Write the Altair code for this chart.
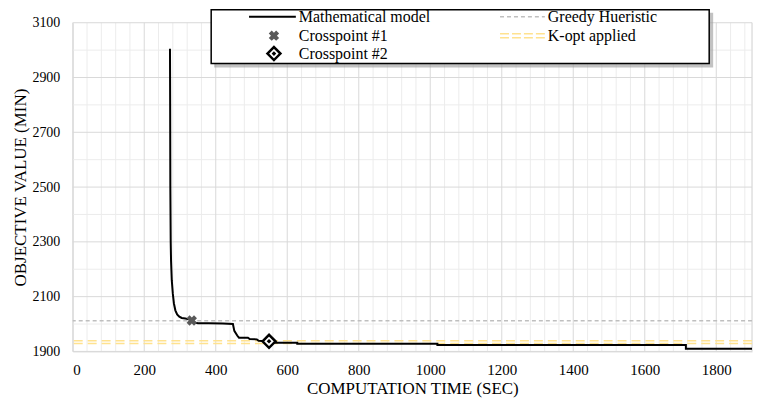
import altair as alt
import pandas as pd

# ---- data ----
time_sec = [272, 272.5, 273, 274, 275, 277, 280, 283, 287, 292, 298, 305, 315, 325, 333,
            340, 350, 380, 420, 448, 452, 460, 465, 490, 495, 515, 520, 549,
            552, 628, 628, 1020, 1020, 1715, 1715, 1900]
objective = [3005, 2800, 2500, 2300, 2230, 2160, 2110, 2075, 2050, 2035, 2027, 2022, 2020, 2017, 2013,
             2006, 2003, 2003, 2002, 2000, 1975, 1958, 1950, 1950, 1945, 1944, 1939, 1937,
             1932, 1932, 1928, 1928, 1923, 1923, 1910, 1910]

greedy_value = [2012]
kopt_values = [1929, 1939]
cross1_t, cross1_v = [333], [2013]
cross2_t, cross2_v = [549], [1937]

x_major = [0, 200, 400, 600, 800, 1000, 1200, 1400, 1600, 1800]
y_major = [1900, 2100, 2300, 2500, 2700, 2900, 3100]
x_minor = [v for v in range(0, 1901, 40) if v % 200 != 0] + [1900]
y_minor = [2000, 2200, 2400, 2600, 2800, 3000]

legend_labels = ["Mathematical model", "Crosspoint #1", "Crosspoint #2",
                 "Greedy Hueristic", "K-opt applied"]

FONT = "Liberation Serif"

xs = alt.Scale(domain=[0, 1900], nice=False, zero=False)
ys = alt.Scale(domain=[1900, 3100], nice=False, zero=False)

x_axis = alt.Axis(values=x_major, format="d", labelFont=FONT, labelFontSize=15, labelPadding=11,
                  title="COMPUTATION TIME (SEC)", titlePadding=3)
y_axis = alt.Axis(values=y_major, format="d", labelFont=FONT, labelFontSize=14, labelPadding=13,
                  title="OBJECTIVE VALUE (MIN)", titlePadding=2)


def X(f):
    return alt.X(f, scale=xs, axis=x_axis)


def Y(f):
    return alt.Y(f, scale=ys, axis=y_axis)


curve_df = pd.DataFrame({"t": time_sec, "v": objective})

# grid
gx_minor = alt.Chart(pd.DataFrame({"t": x_minor})).mark_rule(color="#ececec", strokeWidth=1).encode(x=X("t:Q"))
gy_minor = alt.Chart(pd.DataFrame({"v": y_minor})).mark_rule(color="#ececec", strokeWidth=1).encode(y=Y("v:Q"))
gx_major = alt.Chart(pd.DataFrame({"t": x_major + [1900]})).mark_rule(color="#d9d9d9", strokeWidth=1).encode(x=X("t:Q"))
gy_major = alt.Chart(pd.DataFrame({"v": y_major})).mark_rule(color="#d9d9d9", strokeWidth=1).encode(y=Y("v:Q"))

greedy = alt.Chart(pd.DataFrame({"v": greedy_value})).mark_rule(
    color="#bfbfbf", strokeWidth=1.5, strokeDash=[4, 3]).encode(y=Y("v:Q"))
kopt = alt.Chart(pd.DataFrame({"v": kopt_values})).mark_rule(
    color="#ffe28f", strokeWidth=1.5, strokeDash=[9, 5]).encode(y=Y("v:Q"))

curve = alt.Chart(curve_df).transform_window(idx="row_number()").mark_line(
    color="black", strokeWidth=2).encode(x=X("t:Q"), y=Y("v:Q"), order="idx:Q")

c1 = alt.Chart(pd.DataFrame({"t": cross1_t, "v": cross1_v})).mark_point(
    shape="cross", angle=45, filled=True, color="#595959", size=110, opacity=1).encode(
    x=X("t:Q"), y=Y("v:Q"))
c2_df = pd.DataFrame({"t": cross2_t, "v": cross2_v})
c2 = alt.Chart(c2_df).mark_point(
    shape="diamond", filled=True, fill="white", stroke="black", strokeWidth=2.5, size=170, opacity=1).encode(
    x=X("t:Q"), y=Y("v:Q"))
c2dot = alt.Chart(c2_df).mark_point(
    shape="diamond", filled=True, color="black", size=22, opacity=1).encode(
    x=X("t:Q"), y=Y("v:Q"))

# legend (drawn in pixel space of the plot)
one = pd.DataFrame({"k": [0]})
shadow = alt.Chart(one).mark_rect(fill="#9a9a9a", opacity=0.6).encode(
    x=alt.value(142), x2=alt.value(643), y=alt.value(-10), y2=alt.value(45))
box = alt.Chart(one).mark_rect(fill="white", stroke="black", strokeWidth=1.5).encode(
    x=alt.value(139), x2=alt.value(639), y=alt.value(-13), y2=alt.value(41))

row_y = [-6, 13, 31]
lg = []
lg.append(alt.Chart(one).mark_rule(color="black", strokeWidth=2).encode(
    x=alt.value(177), x2=alt.value(224), y=alt.value(row_y[0])))
lg.append(alt.Chart(one).mark_point(shape="cross", angle=45, filled=True, color="#595959", size=110, opacity=1).encode(
    x=alt.value(202), y=alt.value(row_y[1])))
lg.append(alt.Chart(one).mark_point(shape="diamond", filled=True, fill="white", stroke="black",
                                    strokeWidth=2.5, size=170, opacity=1).encode(
    x=alt.value(202), y=alt.value(row_y[2])))
lg.append(alt.Chart(one).mark_point(shape="diamond", filled=True, color="black", size=22, opacity=1).encode(
    x=alt.value(202), y=alt.value(row_y[2])))
lg.append(alt.Chart(one).mark_rule(color="#bfbfbf", strokeWidth=1.5, strokeDash=[4, 3]).encode(
    x=alt.value(429), x2=alt.value(474), y=alt.value(row_y[0])))
lg.append(alt.Chart(one).mark_rule(color="#ffe28f", strokeWidth=1.5, strokeDash=[9, 3]).encode(
    x=alt.value(429), x2=alt.value(474), y=alt.value(row_y[1] - 2)))
lg.append(alt.Chart(one).mark_rule(color="#ffe28f", strokeWidth=1.5, strokeDash=[9, 3]).encode(
    x=alt.value(429), x2=alt.value(474), y=alt.value(row_y[1] + 2)))

text_pos = [(227, row_y[0]), (227, row_y[1]), (227, row_y[2]), (477, row_y[0]), (477, row_y[1])]
for lab, (px, py) in zip(legend_labels, text_pos):
    lg.append(alt.Chart(pd.DataFrame({"label": [lab]})).mark_text(
        align="left", baseline="middle", font=FONT, fontSize=16, color="black").encode(
        x=alt.value(px), y=alt.value(py), text="label:N"))

chart = alt.layer(
    gx_minor, gy_minor, gx_major, gy_major, greedy, kopt, curve, c1, c2, c2dot,
    shadow, box, *lg
).properties(
    width=682, height=330,
    padding={"left": 65, "top": 14, "right": 5, "bottom": 49},
    autosize=alt.AutoSizeParams(type="none"),
).configure_view(stroke=None).configure_axis(
    grid=False, ticks=False, domainColor="#d9d9d9",
    labelFont=FONT, labelColor="black",
    titleFont=FONT, titleFontSize=17, titleFontWeight="normal", titleColor="black",
)

chart.save("out.html", embed_options={"renderer": "svg", "actions": False})
